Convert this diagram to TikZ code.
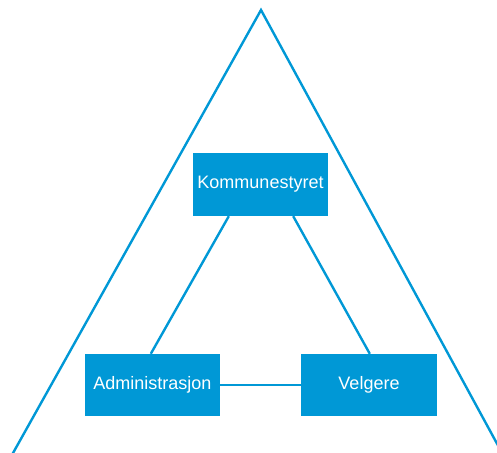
\documentclass[tikz,border=0pt]{standalone}
\usepackage{fontspec}
\setmainfont{Liberation Sans}
\definecolor{blu}{RGB}{0,152,214}
\begin{document}
\begin{tikzpicture}[x=1pt,y=-1pt,
  box/.style={fill=blu, draw=none, text=white, inner sep=0pt,
    font=\fontsize{18}{20}\selectfont},
  link/.style={draw=blu, line width=2.4pt}]
\useasboundingbox (0,0) rectangle (497,452);
% outer triangle, cut off by the page edges
\begin{scope}
\clip (0,0) rectangle (497,452);
\coordinate (apex) at (261,10);
\coordinate (bl) at (8,462);
\coordinate (br) at (507,462);
\draw[link] (bl) -- (apex) -- (br);
\end{scope}
% the three boxes
\node[box, minimum width=135pt, minimum height=63pt] (k) at (260.5,184.5) {Kommunestyret};
\node[box, minimum width=135pt, minimum height=62pt] (a) at (152.5,385) {Administrasjon};
\node[box, minimum width=136pt, minimum height=62pt] (v) at (369,385) {Velgere};
% connection points on the box edges
\coordinate (ka) at ([xshift=36pt]k.south west);
\coordinate (kv) at ([xshift=-35pt]k.south east);
\coordinate (ak) at ([xshift=66pt]a.north west);
\coordinate (vk) at ([xshift=69pt]v.north west);
% connectors
\draw[link] (ka) -- (ak);
\draw[link] (kv) -- (vk);
\draw[link] (a.east) -- (v.west);
\end{tikzpicture}
\end{document}
